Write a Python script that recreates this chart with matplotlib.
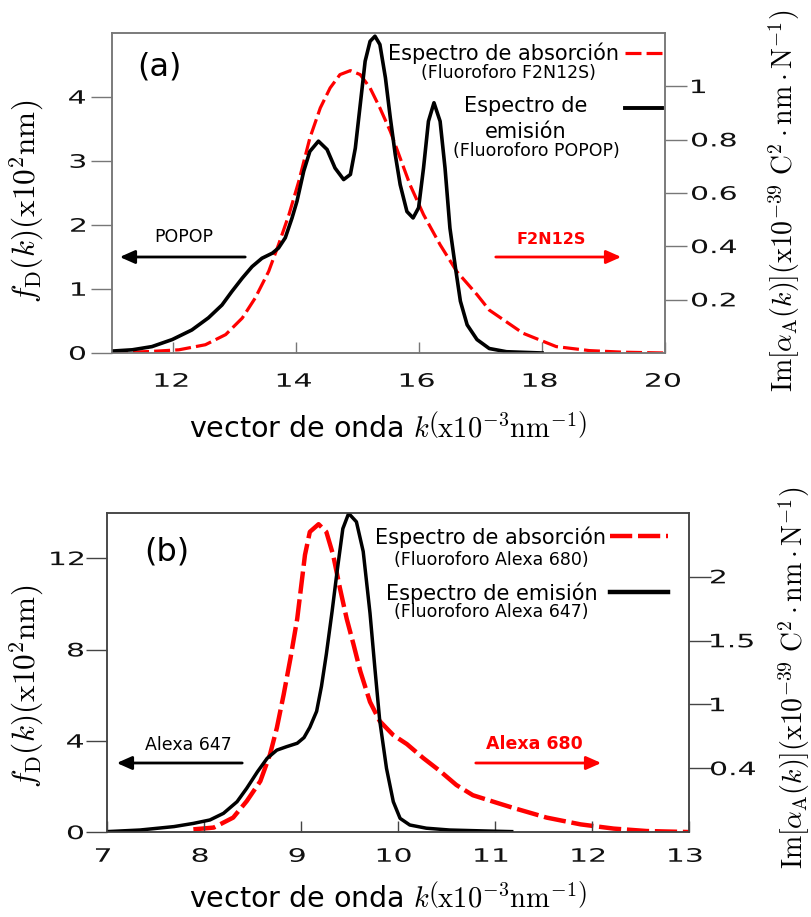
import numpy as np
import matplotlib
matplotlib.use('Agg')
from matplotlib import pyplot as plt
from matplotlib.lines import Line2D
from matplotlib.textpath import TextPath
from matplotlib.patches import PathPatch
from matplotlib.font_manager import FontProperties
from matplotlib.transforms import Affine2D

plt.rcParams['font.family'] = ['DejaVu Sans']
plt.rcParams['mathtext.fontset'] = 'cm'

# (a) emision POPOP  (eje izquierdo, x10^2 nm)
ka_em = [11.0, 11.33, 11.65, 11.98, 12.30, 12.57, 12.79, 12.95, 13.12, 13.28, 13.44, 13.61,
         13.71, 13.82, 13.93, 14.01, 14.12, 14.22, 14.36, 14.50, 14.63, 14.77, 14.88, 14.96,
         15.04, 15.12, 15.20, 15.28, 15.36, 15.45, 15.53, 15.61, 15.69, 15.80, 15.90, 15.99,
         16.07, 16.15, 16.24, 16.34, 16.42, 16.50, 16.59, 16.67, 16.78, 16.94, 17.14, 17.42,
         18.0]
fa_em = [0.03, 0.05, 0.10, 0.21, 0.36, 0.55, 0.75, 0.96, 1.17, 1.35, 1.48, 1.56,
         1.64, 1.80, 2.11, 2.37, 2.84, 3.15, 3.31, 3.18, 2.89, 2.71, 2.79, 3.20,
         3.88, 4.56, 4.87, 4.95, 4.82, 4.30, 3.67, 3.10, 2.63, 2.21, 2.11, 2.27,
         2.89, 3.62, 3.91, 3.62, 2.89, 1.95, 1.33, 0.81, 0.44, 0.21, 0.07, 0.02,
         0.0]

# (a) absorcion F2N12S (eje derecho)
ka_ab = [11.0, 11.65, 12.09, 12.52, 12.85, 13.12, 13.33, 13.55, 13.71, 13.88, 14.04, 14.22,
         14.39, 14.55, 14.71, 14.88, 15.04, 15.20, 15.36, 15.53, 15.69, 15.85, 16.07, 16.34,
         16.61, 16.94, 17.14, 17.69, 18.23, 18.77, 19.32, 20.0]
aa_ab = [0.0, 0.006, 0.012, 0.031, 0.069, 0.131, 0.206, 0.306, 0.406, 0.519, 0.644, 0.806,
         0.919, 0.994, 1.044, 1.059, 1.044, 0.994, 0.919, 0.831, 0.731, 0.631, 0.519, 0.406,
         0.306, 0.219, 0.161, 0.074, 0.024, 0.009, 0.003, 0.0]

# (b) emision Alexa 647
kb_em = [7.0, 7.34, 7.69, 7.89, 8.06, 8.20, 8.34, 8.44, 8.55, 8.65, 8.75, 8.85, 8.96,
         9.03, 9.09, 9.16, 9.21, 9.26, 9.32, 9.37, 9.43, 9.49, 9.57, 9.64, 9.71, 9.76, 9.81,
         9.88, 9.95, 10.02, 10.12, 10.29, 10.53, 10.88, 11.17]
fb_em = [0.03, 0.10, 0.25, 0.39, 0.54, 0.83, 1.34, 1.93, 2.65, 3.24, 3.60, 3.75, 3.90,
         4.15, 4.60, 5.30, 6.40, 7.80, 9.70, 11.40, 13.30, 13.97, 13.60, 12.30, 9.60, 7.20, 4.90,
         2.80, 1.34, 0.61, 0.32, 0.18, 0.10, 0.06, 0.03]

# (b) absorcion Alexa 680
kb_ab = [7.89, 8.10, 8.30, 8.44, 8.58, 8.68, 8.75, 8.82, 8.89, 8.96, 9.04, 9.09, 9.18,
         9.26, 9.33, 9.40, 9.47, 9.54, 9.61, 9.71, 9.81, 9.95, 10.09, 10.26, 10.43, 10.60,
         10.77, 11.02, 11.19, 11.53, 11.88, 12.22, 12.56, 13.0]
ab_ab = [0.023, 0.037, 0.115, 0.244, 0.40, 0.61, 0.816, 1.076, 1.36, 1.67, 2.17, 2.35, 2.41,
         2.35, 2.17, 1.91, 1.67, 1.47, 1.26, 1.02, 0.87, 0.76, 0.69, 0.58, 0.48, 0.37,
         0.29, 0.23, 0.19, 0.115, 0.062, 0.029, 0.01, 0.002]

W, H = 812, 917
fig = plt.figure(figsize=(W / 100, H / 100), dpi=100)
FP = FontProperties(family='DejaVu Sans')


def P(x, y):
    return (x / W, 1 - y / H)


def wide_text(xd, yd, s, ha='center', size=18.5, sx=1.62):
    # texto ensanchado (como los numeros de los ejes del original), coords de pantalla
    tp = TextPath((0, 0), s, size=size, prop=FP)
    bb = tp.get_extents()
    w = bb.width * sx
    if ha == 'center':
        x0 = xd - w / 2
    elif ha == 'right':
        x0 = xd - w
    else:
        x0 = xd
    cap = 0.729 * size
    tr = Affine2D().translate(-bb.x0, 0).scale(sx, 1).translate(x0, yd - cap / 2)
    fig.add_artist(PathPatch(tp, transform=tr, facecolor='#111111', edgecolor='none'))


def panel(rect, xlim, xticks, ylim1, yticks1, ylim2, yticks2, ylabels2, k_em, f_em, k_ab, a_ab,
          dash, lw_red, lw_blk, spine_c, xlab_y, xoff, ylab_r, ylab_l):
    ax = fig.add_axes(rect)
    ax2 = ax.twinx()
    ax.set_zorder(ax2.get_zorder() + 1)
    ax.patch.set_visible(False)
    ax2.plot(k_ab, a_ab, color='red', lw=lw_red, dashes=dash)
    ax.plot(k_em, f_em, color='black', lw=lw_blk, solid_joinstyle='round')
    ax.set_xlim(*xlim)
    ax.set_ylim(*ylim1)
    ax2.set_ylim(*ylim2)
    ax.set_xticks(xticks)
    ax.set_yticks(yticks1)
    ax2.set_yticks(yticks2)
    ax.tick_params(axis='x', direction='in', length=8, width=1, color=spine_c, labelbottom=False)
    ax.tick_params(axis='y', direction='out', length=15, width=1, color=spine_c, labelleft=False)
    ax2.tick_params(axis='y', direction='out', length=16, width=1, color=spine_c, labelright=False)
    for a in (ax, ax2):
        for s in a.spines.values():
            s.set_color(spine_c)
            s.set_linewidth(1.1)
    for t in xticks:
        xd, _ = ax.transData.transform((t, 0))
        wide_text(xd + xoff, H - xlab_y, str(t))
    for t in yticks1:
        _, yd = ax.transData.transform((xlim[0], t))
        wide_text(ylab_r, yd, str(t), ha='right')
    for t, lab in zip(yticks2, ylabels2):
        _, yd = ax2.transData.transform((xlim[0], t))
        wide_text(ylab_l, yd, lab, ha='left')
    return ax, ax2


arrow_kw = '-|>,head_length=0.9,head_width=0.4'

# ---------- (a) ----------
ax, ax2 = panel([112 / W, 1 - 353 / H, 553 / W, 320 / H], (11, 20), [12, 14, 16, 18, 20],
                (0, 5), [0, 1, 2, 3, 4], (0, 1.2), [0.2, 0.4, 0.6, 0.8, 1],
                ['0.2', '0.4', '0.6', '0.8', '1'],
                ka_em, fa_em, ka_ab, aa_ab, (5, 1.6), 2.3, 2.6, '#777777', 380, -2, 85, 692)

fig.text(*P(159, 67), '(a)', fontsize=23, ha='center', va='center')
fig.text(*P(619, 53), 'Espectro de absorción', fontsize=15, ha='right', va='center')
fig.text(*P(508, 73), '(Fluoroforo F2N12S)', fontsize=12.5, ha='center', va='center')
fig.text(*P(526, 106), 'Espectro de', fontsize=15, ha='center', va='center')
fig.text(*P(526, 132), 'emisión', fontsize=15, ha='center', va='center')
fig.text(*P(536, 151), '(Fluoroforo POPOP)', fontsize=12.5, ha='center', va='center')
fig.add_artist(Line2D([625 / W, 662 / W], [1 - 53 / H] * 2, color='red', lw=2.3,
                      dashes=(5, 1.6), transform=fig.transFigure))
fig.add_artist(Line2D([625 / W, 662 / W], [1 - 108 / H] * 2, color='black', lw=2.8,
                      transform=fig.transFigure))

fig.text(*P(184, 237), 'POPOP', fontsize=12.5, ha='center', va='center')
fig.text(*P(551, 239), 'F2N12S', fontsize=11.5, ha='center', va='center', color='red',
         fontweight='bold')
ax.annotate('', xy=P(117, 257), xytext=P(248, 257), xycoords='figure fraction',
            textcoords='figure fraction',
            arrowprops=dict(arrowstyle=arrow_kw, color='black', lw=2))
ax.annotate('', xy=P(624, 257), xytext=P(493, 257), xycoords='figure fraction',
            textcoords='figure fraction',
            arrowprops=dict(arrowstyle=arrow_kw, color='red', lw=2))

fig.text(*P(388, 428), r'vector de onda $k\left(\mathrm{x}10^{-3}\mathrm{nm}^{-1}\right)$',
         fontsize=20.5, ha='center', va='center')
fig.text(*P(27, 201), r'$f_{\mathrm{D}}(k)(\mathrm{x}10^{2}\mathrm{nm})$', fontsize=22.5,
         rotation=90, ha='center', va='center')
fig.text(*P(784, 201),
         r'$\mathrm{Im}[\alpha_{\mathrm{A}}(k)](\mathrm{x}10^{-39}\ \mathrm{C}^{2}\cdot\mathrm{nm}\cdot\mathrm{N}^{-1})$',
         fontsize=20, rotation=90, ha='center', va='center')

# ---------- (b) ----------
bx, bx2 = panel([107 / W, 1 - 832.3 / H, 582.3 / W, 319.6 / H], (7, 13),
                [7, 8, 9, 10, 11, 12, 13], (0, 14), [0, 4, 8, 12], (0, 2.5), [0.5, 1, 1.5, 2],
                ['0.4', '1', '1.5', '2'],
                kb_em, fb_em, kb_ab, ab_ab, (5, 1.3), 3.2, 2.5, '#444444', 855, -4, 83, 711)

fig.text(*P(167, 552), '(b)', fontsize=23, ha='center', va='center')
fig.text(*P(606, 537), 'Espectro de absorción', fontsize=15, ha='right', va='center')
fig.text(*P(589, 560), '(Fluoroforo Alexa 680)', fontsize=12.5, ha='right', va='center')
fig.text(*P(598, 593), 'Espectro de emisión', fontsize=15, ha='right', va='center')
fig.text(*P(589, 612), '(Fluoroforo Alexa 647)', fontsize=12.5, ha='right', va='center')
fig.add_artist(Line2D([610 / W, 668 / W], [1 - 536 / H] * 2, color='red', lw=3.2,
                      dashes=(5, 1.3), transform=fig.transFigure))
fig.add_artist(Line2D([610 / W, 668 / W], [1 - 592 / H] * 2, color='black', lw=3.2,
                      transform=fig.transFigure))

fig.text(*P(188, 745), 'Alexa 647', fontsize=12.5, ha='center', va='center')
fig.text(*P(534, 744), 'Alexa 680', fontsize=12.5, ha='center', va='center', color='red',
         fontweight='bold')
bx.annotate('', xy=P(114, 763), xytext=P(245, 763), xycoords='figure fraction',
            textcoords='figure fraction',
            arrowprops=dict(arrowstyle=arrow_kw, color='black', lw=2))
bx.annotate('', xy=P(604, 763), xytext=P(473, 763), xycoords='figure fraction',
            textcoords='figure fraction',
            arrowprops=dict(arrowstyle=arrow_kw, color='red', lw=2))

fig.text(*P(388, 897), r'vector de onda $k\left(\mathrm{x}10^{-3}\mathrm{nm}^{-1}\right)$',
         fontsize=20.5, ha='center', va='center')
fig.text(*P(27, 686), r'$f_{\mathrm{D}}(k)(\mathrm{x}10^{2}\mathrm{nm})$', fontsize=22.5,
         rotation=90, ha='center', va='center')
fig.text(*P(794, 678),
         r'$\mathrm{Im}[\alpha_{\mathrm{A}}(k)](\mathrm{x}10^{-39}\ \mathrm{C}^{2}\cdot\mathrm{nm}\cdot\mathrm{N}^{-1})$',
         fontsize=20, rotation=90, ha='center', va='center')

fig.savefig('out.png', dpi=100)
